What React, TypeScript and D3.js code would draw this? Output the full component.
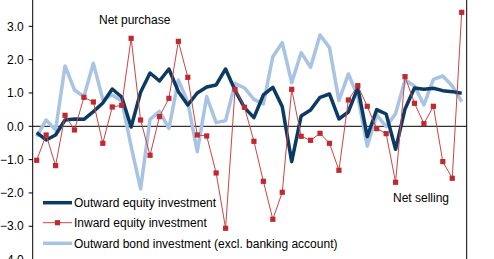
import React from "react";
import * as d3 from "d3";

const outwardEquity = [
  -0.19, -0.41, -0.26, 0.19, 0.22, 0.21, 0.44, 0.7, 1.12, 0.88, -0.02, 1.02,
  1.6, 1.36, 1.72, 1.04, 0.64, 1.0, 1.18, 1.24, 1.72, 1.08, 0.56, 0.26, 0.94,
  1.17, 0.59, -1.06, 0.31, 0.49, 0.87, 0.97, 0.22, 0.43, 1.16, -0.31, 0.5,
  0.37, -0.69, 0.52, 1.15, 1.11, 1.14, 1.07, 1.04, 0.99,
];
const inwardEquity = [
  -1.02, -0.26, -1.18, 0.33, -0.11, 0.87, 0.73, -0.51, 0.58, 0.63, 2.64, 0.19,
  -0.87, 0.29, 0.84, 2.55, 1.47, -0.26, -0.29, -1.4, -3.06, 1.11, 0.57, -0.45,
  -1.65, -2.79, -1.98, 1.11, -0.3, -0.42, -0.21, -0.51, -1.32, 0.79, 1.22, 0.6,
  -0.07, -0.22, -1.68, 1.49, 0.69, 0.08, 0.6, -1.06, -1.56, 3.42,
];
const outwardBond = [
  -0.31, 0.19, -0.11, 1.81, 1.09, 0.89, 1.89, 0.8, 0.94, 0.76, -0.6, -1.88,
  0.21, 0.45, -0.06, 1.39, 0.72, -0.76, 0.89, 0.11, 0.17, 1.29, 1.15, 0.81,
  0.67, 2.09, 2.51, 1.31, 2.21, 1.77, 2.74, 2.36, 0.77, 1.57, 0.9, -0.6, 0.34,
  -0.01, 0.38, 1.39, 1.21, 0.64, 1.41, 1.51, 1.21, 0.74,
];
const periods = outwardEquity.map((_, i) => i);
const yTicks = [-4, -3, -2, -1, 0, 1, 2, 3, 4];
const seriesNames = [
  "Outward equity investment",
  "Inward equity investment",
  "Outward bond investment (excl. banking account)",
];
const annotations = ["Net purchase", "Net selling"];

const W = 494;
const H = 259;
const FONT = "'Liberation Sans', Arial, sans-serif";
const DARK = "#0b3a63";
const RED = "#c0292f";
const REDLINE = "#cc4444";
const LIGHT = "#a8c3e3";

export default function App() {
  const axisX = 32.7;
  const rightX = 466.7;
  const x = d3.scaleLinear().domain([0, periods.length - 1]).range([36.7, 461.7]);
  const y = d3.scaleLinear().domain([-4, 4]).range([259.6, -7]);
  const line = d3
    .line<number>()
    .x((_, i) => x(periods[i]))
    .y((d) => y(d));

  const legendX0 = 43;
  const legendX1 = 72;
  const legendY = [202.7, 222.7, 243.3];

  return (
    <svg
      width={W}
      height={H}
      style={{ position: "absolute", left: 0, top: 0, background: "#fff" }}
      fontFamily={FONT}
    >
      {/* axes */}
      <line x1={axisX} x2={axisX} y1={0} y2={H} stroke="#000" strokeWidth={1} />
      <line x1={rightX} x2={rightX} y1={0} y2={H} stroke="#000" strokeWidth={1} />
      {yTicks.map((t) => (
        <g key={t}>
          <line x1={axisX - 4} x2={axisX} y1={y(t)} y2={y(t)} stroke="#000" />
          <text
            x={axisX - 9}
            y={y(t)}
            dy="0.35em"
            textAnchor="end"
            fontSize={12}
            fill="#000"
          >
            {d3.format(".1f")(t)}
          </text>
        </g>
      ))}
      <line x1={axisX} x2={rightX} y1={y(0)} y2={y(0)} stroke="#000" strokeWidth={1} />

      {/* series */}
      <path d={line(outwardBond) || ""} fill="none" stroke={LIGHT} strokeWidth={3.5} strokeLinejoin="round" />
      <path d={line(outwardEquity) || ""} fill="none" stroke={DARK} strokeWidth={3.5} strokeLinejoin="round" />
      <path d={line(inwardEquity) || ""} fill="none" stroke={REDLINE} strokeWidth={1} />
      {inwardEquity.map((v, i) => (
        <rect key={i} x={x(periods[i]) - 2.6} y={y(v) - 2.6} width={5.2} height={5.2} fill={RED} />
      ))}

      {/* annotations */}
      <text x={99} y={19.3} dy="0.35em" fontSize={12} fill="#000">
        {annotations[0]}
      </text>
      <text x={393} y={197.7} dy="0.35em" fontSize={12} fill="#000">
        {annotations[1]}
      </text>

      {/* legend */}
      <line x1={legendX0} x2={legendX1} y1={legendY[0]} y2={legendY[0]} stroke={DARK} strokeWidth={3.5} />
      <line x1={legendX0} x2={legendX1} y1={legendY[1]} y2={legendY[1]} stroke={REDLINE} strokeWidth={1} />
      <rect x={(legendX0 + legendX1) / 2 - 2.6} y={legendY[1] - 2.6} width={5.2} height={5.2} fill={RED} />
      <line x1={legendX0} x2={legendX1} y1={legendY[2]} y2={legendY[2]} stroke={LIGHT} strokeWidth={3.5} />
      {seriesNames.map((n, i) => (
        <text key={n} x={legendX1 + 2} y={legendY[i]} dy="0.35em" fontSize={12} fill="#000">
          {n}
        </text>
      ))}
    </svg>
  );
}
